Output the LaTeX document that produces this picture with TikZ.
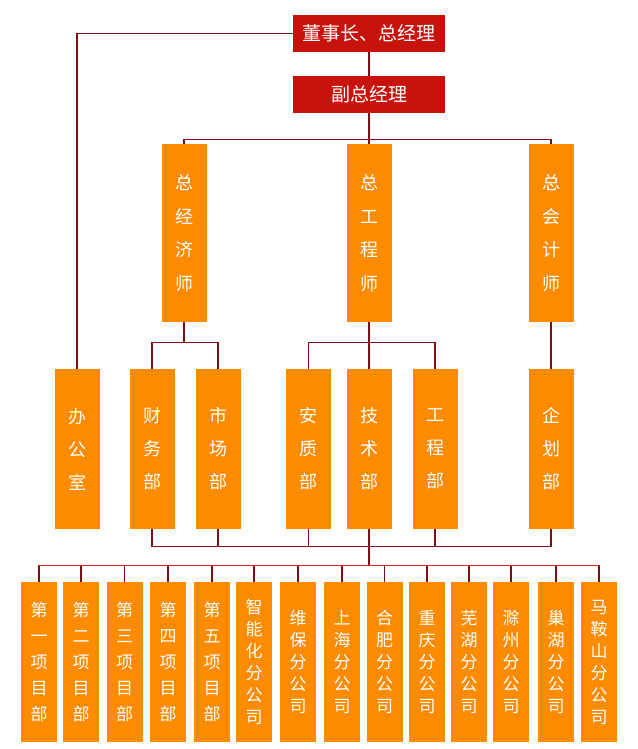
\documentclass[tikz,border=0pt]{standalone}
\usepackage{fontspec}
\newfontfamily\cjk{Noto Sans CJK SC}
\usetikzlibrary{positioning,calc}
\definecolor{boxred}{RGB}{200,18,12}
\definecolor{boxorange}{RGB}{255,139,0}
\definecolor{linered}{RGB}{130,12,22}
\definecolor{busred}{RGB}{228,28,36}
\begin{document}
\begin{tikzpicture}[x=1pt,y=-1pt,
    topbox/.style={fill=boxred, text=white, font=\cjk\fontsize{19}{19}\selectfont, minimum width=152pt, minimum height=37pt, inner sep=0pt},
    chiefbox/.style={fill=boxorange, text=white, align=center, font=\cjk\fontsize{18}{33.5}\selectfont, minimum width=45pt, minimum height=178pt, inner sep=0pt},
    deptbox/.style={fill=boxorange, text=white, align=center, font=\cjk\fontsize{18}{33}\selectfont, minimum width=45pt, minimum height=160pt, inner sep=0pt},
    projbox/.style={fill=boxorange, text=white, align=center, font=\cjk\fontsize{17}{26}\selectfont, minimum width=36pt, minimum height=160pt, inner sep=0pt},
    branchbox/.style={fill=boxorange, text=white, align=center, font=\cjk\fontsize{17}{22}\selectfont, minimum width=36pt, minimum height=160pt, inner sep=0pt},
    link/.style={draw=linered, line width=1.2pt},
    bus/.style={draw=busred, line width=1.2pt}]
    \useasboundingbox (0,0) rectangle (637,749);

    \node[topbox] (chair) at (369,33.5) {董事长、总经理};
    \node[topbox] (vice) at (369,94.5) {副总经理};

    \node[chiefbox] (econ) at (184,233) {总\\经\\济\\师};
    \node[chiefbox] (engchief) at (369,233) {总\\工\\程\\师};
    \node[chiefbox] (acct) at (551,233) {总\\会\\计\\师};

    \node[deptbox] (office) at (77,449) {办\\公\\室};
    \node[deptbox] (finance) at (152,449) {财\\务\\部};
    \node[deptbox] (market) at (218,449) {市\\场\\部};
    \node[deptbox] (safety) at (308.5,449) {安\\质\\部};
    \node[deptbox] (tech) at (369,449) {技\\术\\部};
    \node[deptbox] (works) at (435,449) {工\\程\\部};
    \node[deptbox] (plan) at (551,449) {企\\划\\部};

    \node[projbox] (p1) at (39,662) {第\\一\\项\\目\\部};
    \node[projbox] (p2) at (81,662) {第\\二\\项\\目\\部};
    \node[projbox] (p3) at (124.5,662) {第\\三\\项\\目\\部};
    \node[projbox] (p4) at (168,662) {第\\四\\项\\目\\部};
    \node[projbox] (p5) at (212,662) {第\\五\\项\\目\\部};
    \node[branchbox] (b1) at (254,662) {智\\能\\化\\分\\公\\司};
    \node[branchbox] (b2) at (298,662) {维\\保\\分\\公\\司};
    \node[branchbox] (b3) at (342,662) {上\\海\\分\\公\\司};
    \node[branchbox] (b4) at (384.5,662) {合\\肥\\分\\公\\司};
    \node[branchbox] (b5) at (427,662) {重\\庆\\分\\公\\司};
    \node[branchbox] (b6) at (469,662) {芜\\湖\\分\\公\\司};
    \node[branchbox] (b7) at (511,662) {滁\\州\\分\\公\\司};
    \node[branchbox] (b8) at (556,662) {巢\\湖\\分\\公\\司};
    \node[branchbox] (b9) at (599,662) {马\\鞍\\山\\分\\公\\司};

    % top part
    \draw[link] (chair.west) -| (office.north);
    \draw[link] (chair.south) -- (vice.north);
    \draw[link] (vice.south) -- ++(0,26) coordinate (top);
    \draw[link] (econ.north) |- (top) -| (acct.north);
    \draw[link] (top) -- (engchief.north);

    % chiefs to departments
    \draw[link] (econ.south) -- ++(0,20) coordinate (econj);
    \draw[link] (finance.north) |- (econj) -| (market.north);
    \draw[link] (engchief.south) -- (tech.north);
    \draw[link] (safety.north) |- ($(engchief.south)+(0,20)$) -| (works.north);
    \draw[link] (acct.south) -- (plan.north);

    % departments to projects and branches
    \draw[link] (finance.south) -- ++(0,17) coordinate (low) -| (plan.south);
    \foreach \n in {market,safety,works}
        \draw[link] (\n.south) -- (\n.south |- low);
    \draw[link] (tech.south) -- ++(0,36) coordinate (sub);
    \foreach \n in {p1,p2,p3,p4,p5,b1,b2,b3,b4,b5,b6,b7,b8,b9}
        \draw[link] (\n.north) -- (\n.north |- sub);
    \draw[bus] (p1.north |- sub) -- (b9.north |- sub);
\end{tikzpicture}
\end{document}
